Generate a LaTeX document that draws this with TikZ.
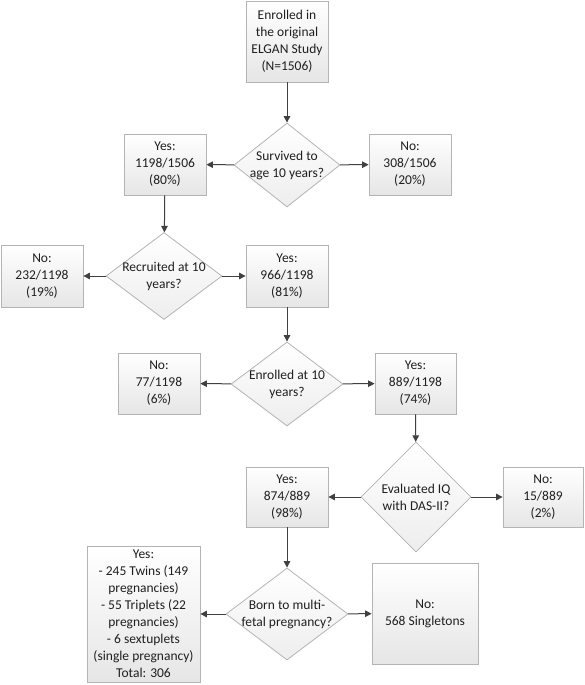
\documentclass[tikz,border=0pt]{standalone}
\usepackage{fontspec}
\setmainfont{Carlito}
\usetikzlibrary{shapes.geometric,arrows.meta,shadows}
\definecolor{bordc}{HTML}{B4B4B4}
\definecolor{arrc}{HTML}{404040}
\definecolor{botc}{HTML}{E6E6E6}
\tikzset{
  x=1pt, y=-1pt,
  box/.style={draw=bordc, line width=0.8pt, top color=white, bottom color=botc, align=center,
    inner sep=0pt, font=\fontsize{13.5}{17}\selectfont, text=black!88,
    drop shadow={shadow xshift=1pt, shadow yshift=-1pt, fill=black!20, opacity=0.6}},
  dia/.style={diamond, draw=bordc, line width=0.8pt, top color=white, bottom color=botc!70, inner sep=0pt},
  qtext/.style={align=center, font=\fontsize{13.5}{17}\selectfont, text=black!88, inner sep=0pt},
  arr/.style={draw=arrc, line width=1pt, -{Triangle[length=6.5pt,width=6.5pt]}}
}
\newcommand{\bx}[6]{% name, x1, y1, x2, y2, text
  \node[box, minimum width=#4-#2, minimum height=#5-#3] (#1) at ({(#2+#4)/2},{(#3+#5)/2}) {#6};}
\newcommand{\dm}[6]{% name, cx, cy, w, h, text
  \node[dia, minimum width=#4, minimum height=#5, label={[qtext]center:{#6}}] (#1) at (#2,#3) {};}
\begin{document}
\begin{tikzpicture}
\useasboundingbox (0,0) rectangle (584,685);
\bx{top}{246}{1}{328}{82}{Enrolled in\\the original\\ELGAN Study\\(N=1506)}
\dm{d1}{287}{165}{106}{84}{Survived to\\age 10 years?}
\bx{y1}{124}{134}{206}{195}{Yes:\\1198/1506\\(80\%)}
\bx{n1}{369}{134}{451}{195}{No:\\308/1506\\(20\%)}
\dm{d2}{164}{276}{116}{87}{Recruited at 10\\years?}
\bx{n2}{1}{245}{83}{307}{No:\\232/1198\\(19\%)}
\bx{y2}{246}{245}{328}{307}{Yes:\\966/1198\\(81\%)}
\dm{d3}{287}{384}{112}{84}{Enrolled at 10\\years?}
\bx{n3}{118}{353}{200}{414}{No:\\77/1198\\(6\%)}
\bx{y3}{375}{353}{456}{414}{Yes:\\889/1198\\(74\%)}
\dm{d4}{416}{497}{110}{110}{Evaluated IQ\\with DAS-II?}
\bx{y4}{246}{467}{328}{527}{Yes:\\874/889\\(98\%)}
\bx{n4}{503}{467}{583}{527}{No:\\15/889\\(2\%)}
\dm{d5}{287}{614}{122}{92}{Born to multi-\\fetal pregnancy?}
\bx{y5}{87}{546}{200}{682}{Yes:\\- 245 Twins (149\\pregnancies)\\- 55 Triplets (22\\pregnancies)\\- 6 sextuplets\\(single pregnancy)\\Total: 306}
\bx{n5}{372}{563}{478}{664}{No:\\568 Singletons}
\draw[arr] (top) -- (d1);
\draw[arr] (d1) -- (y1);
\draw[arr] (d1) -- (n1);
\draw[arr] (y1) -- (d2);
\draw[arr] (d2) -- (n2);
\draw[arr] (d2) -- (y2);
\draw[arr] (y2) -- (d3);
\draw[arr] (d3) -- (n3);
\draw[arr] (d3) -- (y3);
\draw[arr] (y3) -- (d4);
\draw[arr] (d4) -- (y4);
\draw[arr] (d4) -- (n4);
\draw[arr] (y4) -- (d5);
\draw[arr] (d5) -- (y5);
\draw[arr] (d5) -- (n5);
\end{tikzpicture}
\end{document}
